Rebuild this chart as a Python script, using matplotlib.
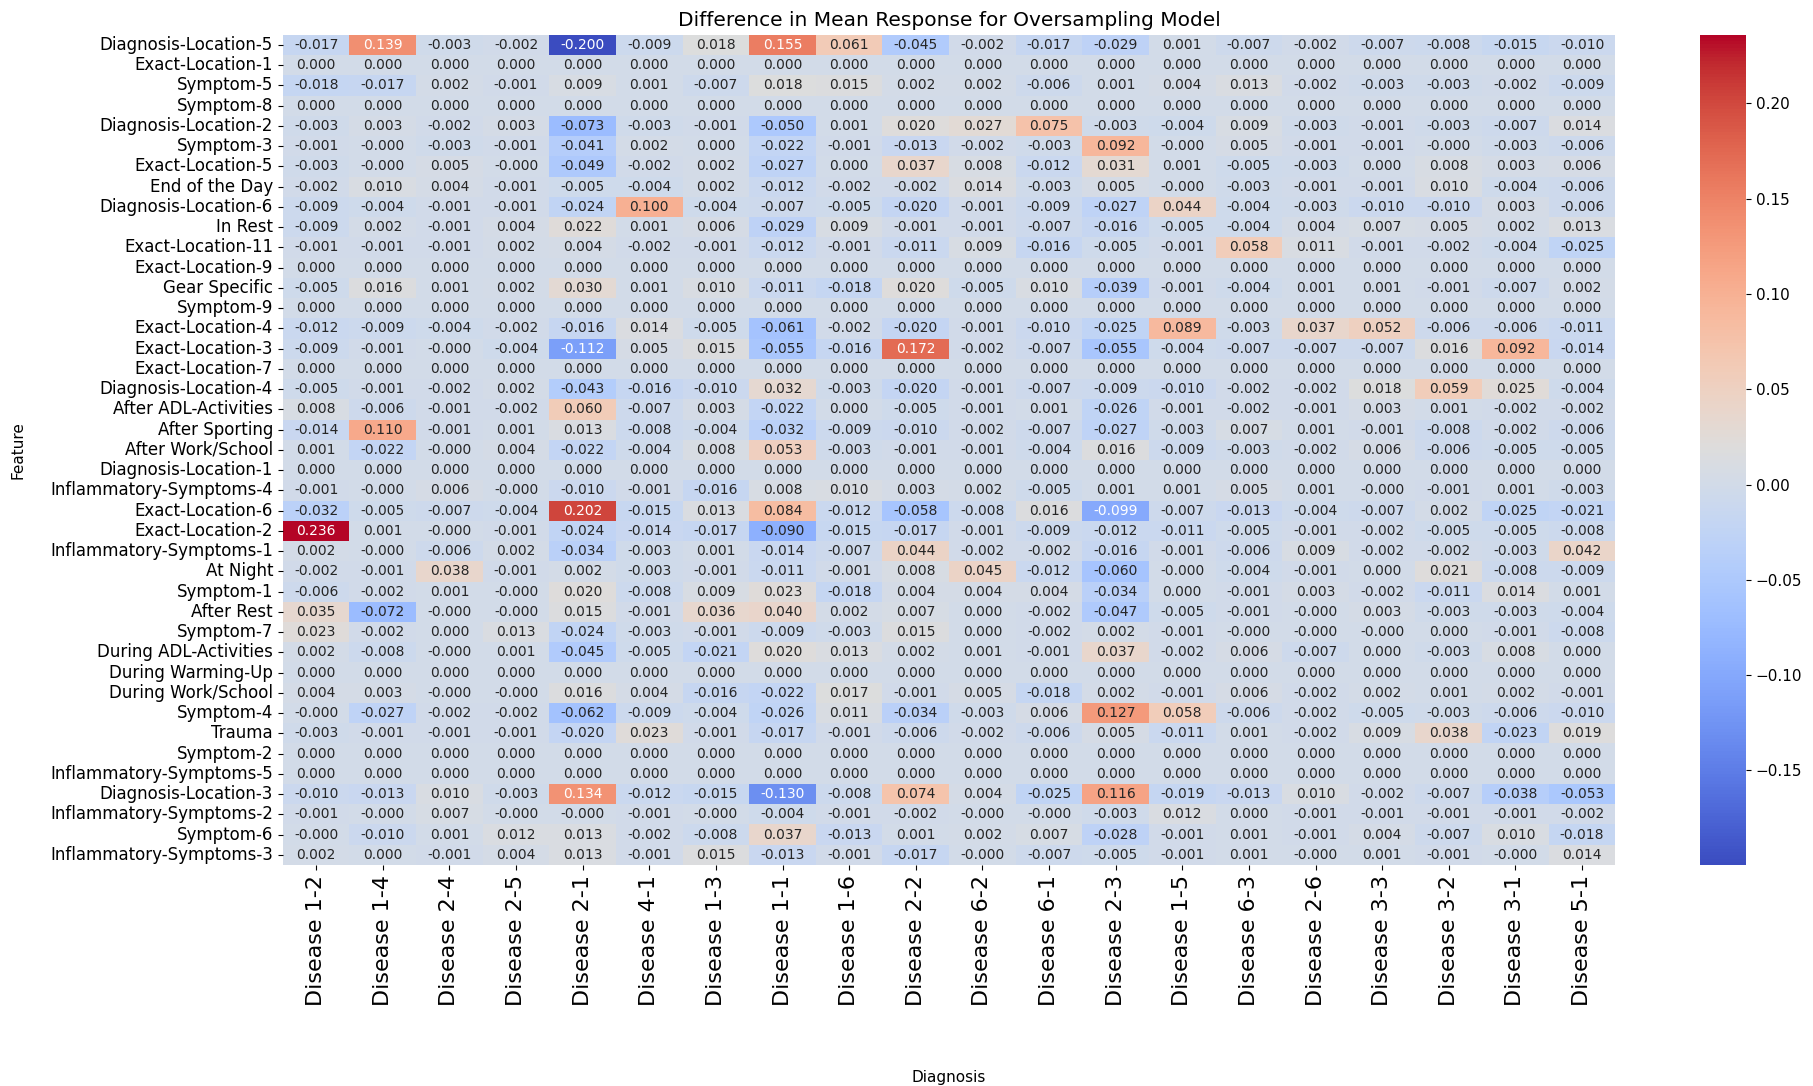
import numpy as np
import pandas as pd
import matplotlib
matplotlib.use("Agg")
import matplotlib.pyplot as plt
import seaborn as sns

# Diagnosis columns and feature rows of the difference table
diagnoses = ["Disease 1-2", "Disease 1-4", "Disease 2-4", "Disease 2-5", "Disease 2-1",
             "Disease 4-1", "Disease 1-3", "Disease 1-1", "Disease 1-6", "Disease 2-2",
             "Disease 6-2", "Disease 6-1", "Disease 2-3", "Disease 1-5", "Disease 6-3",
             "Disease 2-6", "Disease 3-3", "Disease 3-2", "Disease 3-1", "Disease 5-1"]

features = ["Diagnosis-Location-5", "Exact-Location-1", "Symptom-5", "Symptom-8",
            "Diagnosis-Location-2", "Symptom-3", "Exact-Location-5", "End of the Day",
            "Diagnosis-Location-6", "In Rest", "Exact-Location-11", "Exact-Location-9",
            "Gear Specific", "Symptom-9", "Exact-Location-4", "Exact-Location-3",
            "Exact-Location-7", "Diagnosis-Location-4", "After ADL-Activities",
            "After Sporting", "After Work/School", "Diagnosis-Location-1",
            "Inflammatory-Symptoms-4", "Exact-Location-6", "Exact-Location-2",
            "Inflammatory-Symptoms-1", "At Night", "Symptom-1", "After Rest", "Symptom-7",
            "During ADL-Activities", "During Warming-Up", "During Work/School", "Symptom-4",
            "Trauma", "Symptom-2", "Inflammatory-Symptoms-5", "Diagnosis-Location-3",
            "Inflammatory-Symptoms-2", "Symptom-6", "Inflammatory-Symptoms-3"]

z = -0.0002  # small negative that rounds to -0.000
zeros = [0.0] * 20

diag_loc_5 = [-0.017, 0.139, -0.003, -0.002, -0.1996, -0.009, 0.018, 0.155, 0.061, -0.045,
              -0.002, -0.017, -0.029, 0.001, -0.007, -0.002, -0.007, -0.008, -0.015, -0.010]
exact_loc_1 = zeros
symptom_5 = [-0.018, -0.017, 0.002, -0.001, 0.009, 0.001, -0.007, 0.018, 0.015, 0.002,
             0.002, -0.006, 0.001, 0.004, 0.013, -0.002, -0.003, -0.003, -0.002, -0.009]
symptom_8 = zeros
diag_loc_2 = [-0.003, 0.003, -0.002, 0.003, -0.073, -0.003, -0.001, -0.050, 0.001, 0.020,
              0.027, 0.075, -0.003, -0.004, 0.009, -0.003, -0.001, -0.003, -0.007, 0.014]
symptom_3 = [-0.001, z, -0.003, -0.001, -0.041, 0.002, 0.000, -0.022, -0.001, -0.013,
             -0.002, -0.003, 0.092, z, 0.005, -0.001, -0.001, z, -0.003, -0.006]
exact_loc_5 = [-0.003, z, 0.005, z, -0.049, -0.002, 0.002, -0.027, 0.000, 0.037,
               0.008, -0.012, 0.031, 0.001, -0.005, -0.003, 0.000, 0.008, 0.003, 0.006]
end_of_day = [-0.002, 0.010, 0.004, -0.001, -0.005, -0.004, 0.002, -0.012, -0.002, -0.002,
              0.014, -0.003, 0.005, z, -0.003, -0.001, -0.001, 0.010, -0.004, -0.006]
diag_loc_6 = [-0.009, -0.004, -0.001, -0.001, -0.024, 0.100, -0.004, -0.007, -0.005, -0.020,
              -0.001, -0.009, -0.027, 0.044, -0.004, -0.003, -0.010, -0.010, 0.003, -0.006]
in_rest = [-0.009, 0.002, -0.001, 0.004, 0.022, 0.001, 0.006, -0.029, 0.009, -0.001,
           -0.001, -0.007, -0.016, -0.005, -0.004, 0.004, 0.007, 0.005, 0.002, 0.013]
exact_loc_11 = [-0.001, -0.001, -0.001, 0.002, 0.004, -0.002, -0.001, -0.012, -0.001, -0.011,
                0.009, -0.016, -0.005, -0.001, 0.058, 0.011, -0.001, -0.002, -0.004, -0.025]
exact_loc_9 = zeros
gear_specific = [-0.005, 0.016, 0.001, 0.002, 0.030, 0.001, 0.010, -0.011, -0.018, 0.020,
                 -0.005, 0.010, -0.039, -0.001, -0.004, 0.001, 0.001, -0.001, -0.007, 0.002]
symptom_9 = zeros
exact_loc_4 = [-0.012, -0.009, -0.004, -0.002, -0.016, 0.014, -0.005, -0.061, -0.002, -0.020,
               -0.001, -0.010, -0.025, 0.089, -0.003, 0.037, 0.052, -0.006, -0.006, -0.011]
exact_loc_3 = [-0.009, -0.001, z, -0.004, -0.112, 0.005, 0.015, -0.055, -0.016, 0.172,
               -0.002, -0.007, -0.055, -0.004, -0.007, -0.007, -0.007, 0.016, 0.092, -0.014]
exact_loc_7 = zeros
diag_loc_4 = [-0.005, -0.001, -0.002, 0.002, -0.043, -0.016, -0.010, 0.032, -0.003, -0.020,
              -0.001, -0.007, -0.009, -0.010, -0.002, -0.002, 0.018, 0.059, 0.025, -0.004]
after_adl = [0.008, -0.006, -0.001, -0.002, 0.060, -0.007, 0.003, -0.022, 0.000, -0.005,
             -0.001, 0.001, -0.026, -0.001, -0.002, -0.001, 0.003, 0.001, -0.002, -0.002]
after_sporting = [-0.014, 0.110, -0.001, 0.001, 0.013, -0.008, -0.004, -0.032, -0.009, -0.010,
                  -0.002, -0.007, -0.027, -0.003, 0.007, 0.001, -0.001, -0.008, -0.002, -0.006]
after_work = [0.001, -0.022, z, 0.004, -0.022, -0.004, 0.008, 0.053, -0.003, -0.001,
              -0.001, -0.004, 0.016, -0.009, -0.003, -0.002, 0.006, -0.006, -0.005, -0.005]
diag_loc_1 = zeros
inflam_4 = [-0.001, z, 0.006, z, -0.010, -0.001, -0.016, 0.008, 0.010, 0.003,
            0.002, -0.005, 0.001, 0.001, 0.005, 0.001, z, -0.001, 0.001, -0.003]
exact_loc_6 = [-0.032, -0.005, -0.007, -0.004, 0.202, -0.015, 0.013, 0.084, -0.012, -0.058,
               -0.008, 0.016, -0.099, -0.007, -0.013, -0.004, -0.007, 0.002, -0.025, -0.021]
exact_loc_2 = [0.236, 0.001, z, -0.001, -0.024, -0.014, -0.017, -0.090, -0.015, -0.017,
               -0.001, -0.009, -0.012, -0.011, -0.005, -0.001, -0.002, -0.005, -0.005, -0.008]
inflam_1 = [0.002, z, -0.006, 0.002, -0.034, -0.003, 0.001, -0.014, -0.007, 0.044,
            -0.002, -0.002, -0.016, -0.001, -0.006, 0.009, -0.002, -0.002, -0.003, 0.042]
at_night = [-0.002, -0.001, 0.038, -0.001, 0.002, -0.003, -0.001, -0.011, -0.001, 0.008,
            0.045, -0.012, -0.060, z, -0.004, -0.001, 0.000, 0.021, -0.008, -0.009]
symptom_1 = [-0.006, -0.002, 0.001, z, 0.020, -0.008, 0.009, 0.023, -0.018, 0.004,
             0.004, 0.004, -0.034, 0.000, -0.001, 0.003, -0.002, -0.011, 0.014, 0.001]
after_rest = [0.035, -0.072, z, z, 0.015, -0.001, 0.036, 0.040, 0.002, 0.007,
              0.000, -0.002, -0.047, -0.005, -0.001, z, 0.003, -0.003, -0.003, -0.004]
symptom_7 = [0.023, -0.002, 0.000, 0.013, -0.024, -0.003, -0.001, -0.009, -0.003, 0.015,
             0.000, -0.002, 0.002, -0.001, z, z, z, 0.000, -0.001, -0.008]
during_adl = [0.002, -0.008, z, 0.001, -0.045, -0.005, -0.021, 0.020, 0.013, 0.002,
              0.001, -0.001, 0.037, -0.002, 0.006, -0.007, 0.000, -0.003, 0.008, 0.000]
during_warmup = zeros
during_work = [0.004, 0.003, z, z, 0.016, 0.004, -0.016, -0.022, 0.017, -0.001,
               0.005, -0.018, 0.002, -0.001, 0.006, -0.002, 0.002, 0.001, 0.002, -0.001]
symptom_4 = [z, -0.027, -0.002, -0.002, -0.062, -0.009, -0.004, -0.026, 0.011, -0.034,
             -0.003, 0.006, 0.127, 0.058, -0.006, -0.002, -0.005, -0.003, -0.006, -0.010]
trauma = [-0.003, -0.001, -0.001, -0.001, -0.020, 0.023, -0.001, -0.017, -0.001, -0.006,
          -0.002, -0.006, 0.005, -0.011, 0.001, -0.002, 0.009, 0.038, -0.023, 0.019]
symptom_2 = zeros
inflam_5 = zeros
diag_loc_3 = [-0.010, -0.013, 0.010, -0.003, 0.134, -0.012, -0.015, -0.130, -0.008, 0.074,
              0.004, -0.025, 0.116, -0.019, -0.013, 0.010, -0.002, -0.007, -0.038, -0.053]
inflam_2 = [-0.001, z, 0.007, z, z, -0.001, z, -0.004, -0.001, -0.002,
            z, z, -0.003, 0.012, 0.000, -0.001, -0.001, -0.001, -0.001, -0.002]
symptom_6 = [z, -0.010, 0.001, 0.012, 0.013, -0.002, -0.008, 0.037, -0.013, 0.001,
             0.002, 0.007, -0.028, -0.001, 0.001, -0.001, 0.004, -0.007, 0.010, -0.018]
inflam_3 = [0.002, 0.000, -0.001, 0.004, 0.013, -0.001, 0.015, -0.013, -0.001, -0.017,
            z, -0.007, -0.005, -0.001, 0.001, z, 0.001, -0.001, z, 0.014]

rows = [diag_loc_5, exact_loc_1, symptom_5, symptom_8, diag_loc_2, symptom_3, exact_loc_5,
        end_of_day, diag_loc_6, in_rest, exact_loc_11, exact_loc_9, gear_specific, symptom_9,
        exact_loc_4, exact_loc_3, exact_loc_7, diag_loc_4, after_adl, after_sporting,
        after_work, diag_loc_1, inflam_4, exact_loc_6, exact_loc_2, inflam_1, at_night,
        symptom_1, after_rest, symptom_7, during_adl, during_warmup, during_work, symptom_4,
        trauma, symptom_2, inflam_5, diag_loc_3, inflam_2, symptom_6, inflam_3]

diff = pd.DataFrame(np.array(rows), index=features, columns=diagnoses)

fig = plt.figure(figsize=(18.13, 10.86), dpi=100)
ax = fig.add_axes([0.156, 0.2035, 0.735, 0.7645])
cax = fig.add_axes([0.9377, 0.2035, 0.0254, 0.7645])

sns.heatmap(diff, annot=True, fmt=".3f", cmap="coolwarm", ax=ax, cbar_ax=cax,
            annot_kws={"fontsize": 10})

ax.set_title("Difference in Mean Response for Oversampling Model", fontsize=14.5)
ax.set_xlabel("Diagnosis", fontsize=11, labelpad=46)
ax.set_ylabel("Feature", fontsize=11, labelpad=18)
ax.set_xticklabels(ax.get_xticklabels(), rotation=90, fontsize=16)
ax.set_yticklabels(ax.get_yticklabels(), rotation=0, fontsize=12)
cax.tick_params(labelsize=11)

fig.savefig("out.png", dpi=100)
